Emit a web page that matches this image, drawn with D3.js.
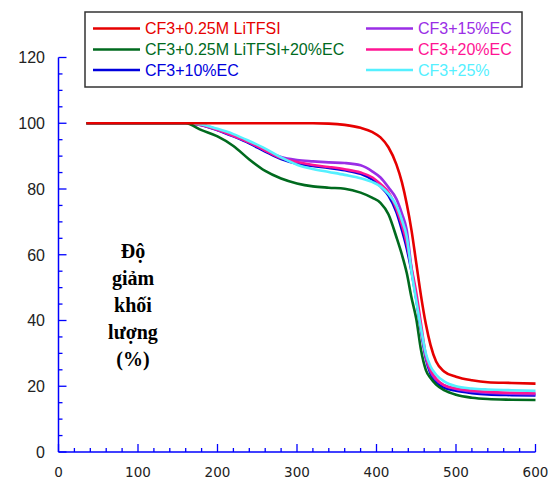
<!DOCTYPE html>
<html>
<head>
<meta charset="utf-8">
<script src="https://cdn.jsdelivr.net/npm/d3@7"></script>
<style>
  html, body { margin: 0; padding: 0; background: #fff; }
  svg { display: block; }
</style>
</head>
<body>
<svg id="chart" width="548" height="484"></svg>
<script>
// Temperature (°C) sample points shared by every curve
const temps = [35, 100, 160, 180, 200, 220, 240, 260, 280, 300, 320, 340, 360, 380, 395, 405,
               415, 425, 432, 438, 444, 450, 456, 462, 468, 475, 485, 500, 520, 540, 570, 600];

// Remaining mass (%) for each electrolyte
const litfsi      = [100, 100, 100, 100, 100, 100, 100, 100, 100, 100, 100, 99.9, 99.5, 98.6, 97.3, 95.7,
                     92.7, 87.5, 82, 75.5, 67.5, 57.5, 47.5, 39, 32.5, 27.5, 24.5, 22.9, 21.8, 21.2, 21, 20.8];
const litfsiEc20  = [100, 100, 100, 97.9, 96, 93.1, 89, 85.5, 83.2, 81.7, 80.8, 80.4, 80.1, 78.9, 77.3, 75.8,
                     72.3, 65.4, 60, 54.5, 47, 40.5, 31, 25, 22.5, 20.5, 18.8, 17.4, 16.5, 16.1, 15.9, 15.8];
const ec10        = [100, 100, 100, 99.4, 97.9, 96, 93.9, 91.4, 89.1, 87.7, 87, 86.4, 85.7, 84.6, 82.8, 80.8,
                     78, 73, 67.5, 62, 55, 46.5, 37, 28.5, 23.8, 21.3, 19.6, 18.6, 17.9, 17.5, 17.3, 17.2];
const ec15        = [100, 100, 100, 99.5, 98, 96.2, 94.2, 91.8, 89.7, 88.8, 88.4, 88.1, 87.9, 87.2, 85.3, 83.5,
                     80.5, 77, 72.5, 67.5, 56, 47, 37.5, 29, 24.5, 22, 20.3, 19.2, 18.4, 18, 17.7, 17.6];
const ec20        = [100, 100, 100, 99.5, 98, 96.2, 94.2, 91.7, 89.4, 88.2, 87.3, 86.7, 86, 85, 83.5, 81.5,
                     79, 74, 69, 63.5, 56, 48.5, 39, 29.5, 25, 22.3, 20.3, 19.3, 18.7, 18.3, 18, 17.9];
const ec25        = [100, 100, 100, 99.6, 98.3, 96.7, 94.6, 92.3, 89.6, 87.4, 86.1, 85.2, 84.3, 83.3, 82.1, 80.8,
                     78.5, 75, 70.5, 65.5, 55, 46, 37.5, 30, 26, 23.5, 21.5, 20, 19.3, 19, 18.8, 18.6];

const seriesNames  = ["CF3+0.25M LiTFSI", "CF3+0.25M LiTFSI+20%EC", "CF3+10%EC",
                      "CF3+15%EC", "CF3+20%EC", "CF3+25%"];
const seriesValues = [litfsi, litfsiEc20, ec10, ec15, ec20, ec25];
const seriesColors = ["#e60000", "#006a1e", "#0000dd", "#9a2ee6", "#ff1493", "#55f0ff"];

const xTicks = [0, 100, 200, 300, 400, 500, 600];
const yTicks = [0, 20, 40, 60, 80, 100, 120];
const yTitleLines = ["Độ", "giảm", "khối", "lượng", "(%)"];

const svg = d3.select("#chart");
const axisColor = "#0000ff";

const x = d3.scaleLinear().domain([0, 600]).range([58.5, 535.5]);
const y = d3.scaleLinear().domain([0, 120]).range([452, 57.5]);

// Axes: ticks point inward, minor ticks every 20 °C / 5 %
const xMinor = d3.range(0, 601, 20).filter(v => v % 100 !== 0);
const yMinor = d3.range(0, 121, 5).filter(v => v % 20 !== 0);

const gx = svg.append("g");
gx.append("line").attr("x1", x(0)).attr("x2", x(600)).attr("y1", y(0)).attr("y2", y(0))
  .attr("stroke", axisColor).attr("stroke-width", 1.5);
gx.selectAll("line.major").data(xTicks).join("line").attr("class", "major")
  .attr("x1", d => x(d)).attr("x2", d => x(d)).attr("y1", y(0)).attr("y2", y(0) - 8)
  .attr("stroke", axisColor).attr("stroke-width", 1.3);
gx.selectAll("line.minor").data(xMinor).join("line").attr("class", "minor")
  .attr("x1", d => x(d)).attr("x2", d => x(d)).attr("y1", y(0)).attr("y2", y(0) - 4)
  .attr("stroke", axisColor).attr("stroke-width", 1.3);
gx.selectAll("text").data(xTicks).join("text")
  .attr("x", d => x(d)).attr("y", 477)
  .attr("text-anchor", "middle")
  .attr("font-family", "DejaVu Sans, sans-serif").attr("font-size", 13.5)
  .attr("fill", "#222").text(d => d);

const gy = svg.append("g");
gy.append("line").attr("x1", x(0)).attr("x2", x(0)).attr("y1", y(0)).attr("y2", y(120))
  .attr("stroke", axisColor).attr("stroke-width", 1.5);
gy.selectAll("line.major").data(yTicks).join("line").attr("class", "major")
  .attr("x1", x(0)).attr("x2", x(0) + 8).attr("y1", d => y(d)).attr("y2", d => y(d))
  .attr("stroke", axisColor).attr("stroke-width", 1.3);
gy.selectAll("line.minor").data(yMinor).join("line").attr("class", "minor")
  .attr("x1", x(0)).attr("x2", x(0) + 4).attr("y1", d => y(d)).attr("y2", d => y(d))
  .attr("stroke", axisColor).attr("stroke-width", 1.3);
gy.selectAll("text").data(yTicks).join("text")
  .attr("x", 45).attr("y", d => y(d)).attr("dy", "0.36em")
  .attr("text-anchor", "end")
  .attr("font-family", "Liberation Sans, Arial, sans-serif").attr("font-size", 16)
  .attr("fill", "#222").text(d => d);

// Y-axis title stacked inside the plot
svg.append("g").selectAll("text").data(yTitleLines).join("text")
  .attr("x", 133).attr("y", (d, i) => 258 + i * 27)
  .attr("text-anchor", "middle")
  .attr("font-family", "Liberation Serif, Times New Roman, serif")
  .attr("font-weight", "bold").attr("font-size", 20)
  .attr("fill", "#000").text(d => d);

// Curves
const line = d3.line()
  .x((d, i) => x(temps[i]))
  .y(d => y(d))
  .curve(d3.curveMonotoneX);

const drawOrder = [2, 3, 4, 5, 1, 0];
svg.append("g").selectAll("path").data(drawOrder).join("path")
  .attr("d", i => line(seriesValues[i]))
  .attr("fill", "none")
  .attr("stroke", i => seriesColors[i])
  .attr("stroke-width", 2.6)
  .attr("stroke-linejoin", "round");

// Legend
const legend = svg.append("g");
legend.append("rect").attr("x", 85).attr("y", 12).attr("width", 437).attr("height", 75)
  .attr("fill", "#fff").attr("stroke", "#333").attr("stroke-width", 1.5);
const legendPos = seriesNames.map((n, i) => ({
  col: i < 3 ? 0 : 1,
  row: i % 3
}));
const colX = [93, 366];
const rowY = [28.5, 49.5, 70];
const items = legend.selectAll("g.item").data(seriesNames).join("g").attr("class", "item");
items.append("line")
  .attr("x1", (d, i) => colX[legendPos[i].col])
  .attr("x2", (d, i) => colX[legendPos[i].col] + 47)
  .attr("y1", (d, i) => rowY[legendPos[i].row])
  .attr("y2", (d, i) => rowY[legendPos[i].row])
  .attr("stroke", (d, i) => seriesColors[i]).attr("stroke-width", 2.6);
items.append("text")
  .attr("x", (d, i) => colX[legendPos[i].col] + 52)
  .attr("y", (d, i) => rowY[legendPos[i].row]).attr("dy", "0.36em")
  .attr("font-family", "Liberation Sans, Arial, sans-serif").attr("font-size", 16)
  .attr("fill", (d, i) => seriesColors[i]).text(d => d);
</script>
</body>
</html>
